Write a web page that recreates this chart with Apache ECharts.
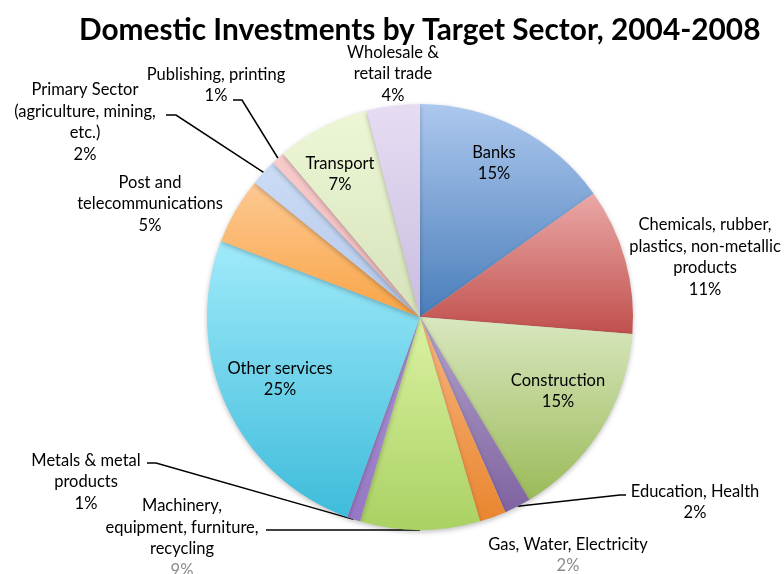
<!DOCTYPE html>
<html>
<head>
<meta charset="utf-8">
<script src="https://cdn.jsdelivr.net/npm/echarts@6/dist/echarts.min.js"></script>
<style>
  html, body { margin: 0; padding: 0; background: #ffffff; }
  #chart { width: 784px; height: 574px; }
</style>
</head>
<body>
<div id="chart"></div>
<script>
// Sectors, clockwise from 12 o'clock
const sectors = [
  'Banks',
  'Chemicals, rubber,\nplastics, non-metallic\nproducts',
  'Construction',
  'Education, Health',
  'Gas, Water, Electricity',
  'Machinery,\nequipment, furniture,\nrecycling',
  'Metals & metal\nproducts',
  'Other services',
  'Post and\ntelecommunications',
  'Primary Sector\n(agriculture, mining,\netc.)',
  'Publishing, printing',
  'Transport',
  'Wholesale &\nretail trade'
];
// Share of domestic investments, %
const shares = [15, 11, 15, 2, 2, 9, 1, 25, 5, 2, 1, 7, 4];

// Slice gradient colours (top -> bottom)
const colorTop = ['#adc8ee', '#eaa9a7', '#d9e7c0', '#b3a4ca', '#f8b581', '#dbf2a2', '#ab96d2',
                  '#a0eafa', '#fdc993', '#cadcf5', '#f8cbcb', '#edf7d6', '#e6ddf3'];
const colorBottom = ['#4a7ebb', '#c0504d', '#9bbb59', '#7f63a1', '#e9862f', '#aad163', '#9677c4',
                     '#3ebcdb', '#f9a445', '#b5c7ea', '#efb7b7', '#d6e2ba', '#c9bddf'];

// Label block centres
const labelCenter = [
  [494, 163], [705, 257], [558, 391], [695, 502], [568, 555], [182, 538], [86, 482],
  [280, 379], [150, 204], [85, 122], [216, 85], [340, 174], [393, 74]
];
// Leader lines: bend point and end point, for labels that have them
const leaderLine = {
  3: [[620, 495], [626, 495]],
  5: [[300, 530], [266, 530]],
  6: [[156, 463], [147, 463]],
  9: [[176, 115], [166, 115]],
  10: [[242, 100], [233, 100]]
};
// Labels printed inside the slices
const insideLabels = [0, 2, 7, 11];
// Percent lines shown greyed
const dimPercent = [4, 5];

const FONT = 'Lato';
const LABEL_SIZE = 16.5;

const chart = echarts.init(document.getElementById('chart'));

const data = sectors.map((name, i) => ({
  name: name,
  value: shares[i],
  itemStyle: {
    color: {
      type: 'linear', x: 0, y: 0, x2: 0, y2: 1,
      colorStops: [{ offset: 0, color: colorTop[i] }, { offset: 1, color: colorBottom[i] }]
    }
  },
  label: {
    position: insideLabels.includes(i) ? 'inside' : 'outside',
    formatter: dimPercent.includes(i) ? '{b}\n{dim|{c}%}' : '{b}\n{c}%'
  },
  labelLine: { show: leaderLine[i] !== undefined }
}));

chart.setOption({
  animation: false,
  title: {
    text: 'Domestic Investments by Target Sector, 2004-2008',
    left: 74,
    top: 10,
    textStyle: { fontFamily: FONT, fontWeight: 'bold', fontSize: 29.8, color: '#000000' }
  },
  series: [{
    type: 'pie',
    center: [420, 317],
    radius: 213,
    startAngle: 90,
    clockwise: true,
    avoidLabelOverlap: false,
    data: data,
    itemStyle: {
      borderWidth: 0,
      shadowBlur: 5,
      shadowColor: 'rgba(0,0,0,0.25)',
      shadowOffsetY: 2
    },
    label: {
      fontFamily: FONT,
      fontSize: LABEL_SIZE,
      color: '#000000',
      lineHeight: 21.5,
      align: 'center',
      rich: { dim: { color: '#8c8c8c', fontFamily: FONT, fontSize: LABEL_SIZE, lineHeight: 21.5 } }
    },
    labelLine: {
      lineStyle: { color: '#000000', width: 1.5 }
    },
    emphasis: { disabled: true },
    labelLayout: function (params) {
      const i = params.dataIndex;
      const out = {
        x: labelCenter[i][0],
        y: labelCenter[i][1],
        align: 'center',
        verticalAlign: 'middle'
      };
      const leg = leaderLine[i];
      if (leg && params.labelLinePoints) {
        out.labelLinePoints = [params.labelLinePoints[0], leg[0], leg[1]];
      }
      return out;
    }
  }]
});
</script>
</body>
</html>
